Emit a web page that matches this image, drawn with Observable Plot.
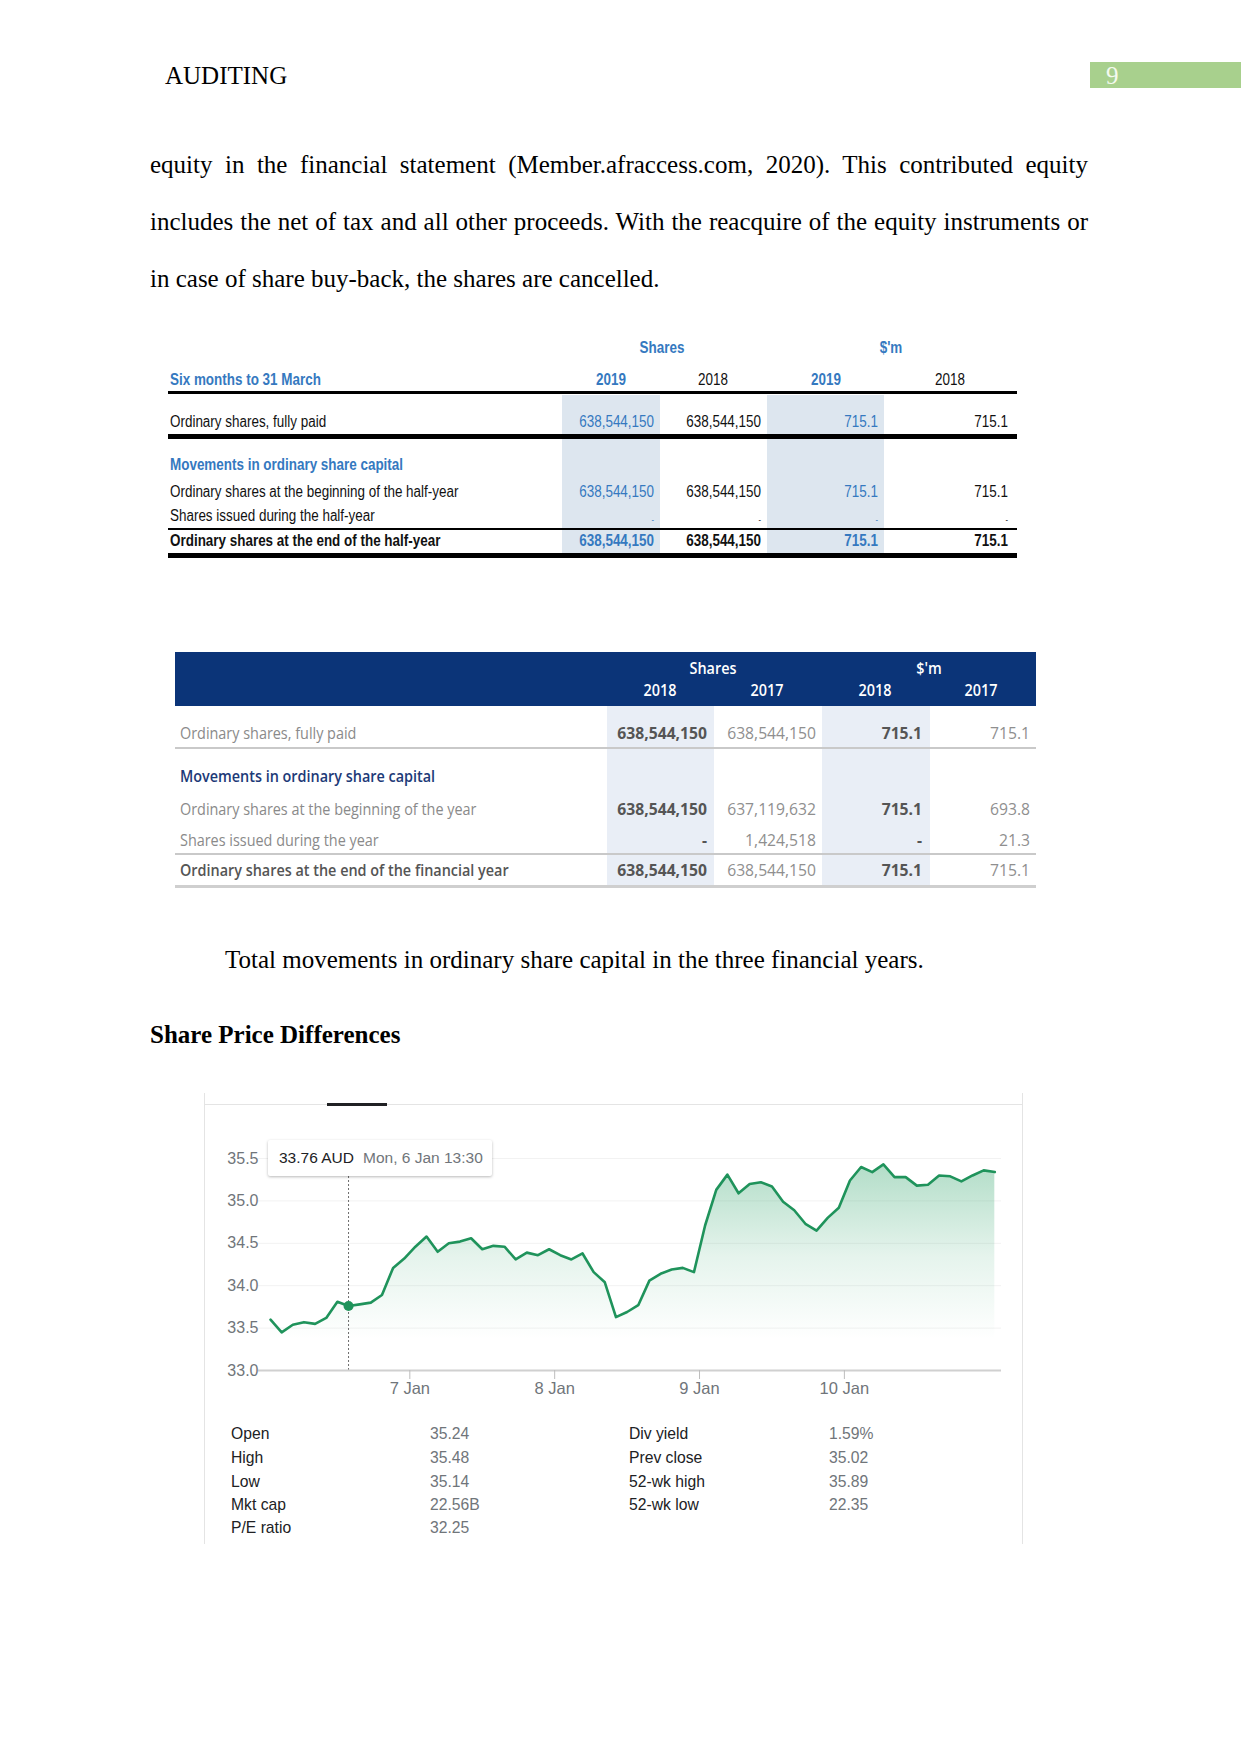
<!DOCTYPE html>
<html><head><meta charset="utf-8">
<script src="https://cdn.jsdelivr.net/npm/d3@7"></script>
<script src="https://cdn.jsdelivr.net/npm/@observablehq/plot@0.6"></script>
<style>
html,body{margin:0;padding:0;background:#fff;}
#page{position:relative;width:1241px;height:1754px;overflow:hidden;background:#fff;}
.t{position:absolute;white-space:nowrap;line-height:1;}
.bx{position:absolute;}
.ln{position:absolute;white-space:nowrap;line-height:24px;text-align:justify;text-align-last:justify;}
</style></head><body><div id="page"></div>
<script>
// ---------------- data ----------------
const docHeader = "AUDITING";
const pageNumber = "9";
const bodyLines = [
  "equity in the financial statement (Member.afraccess.com, 2020). This contributed equity",
  "includes the net of tax and all other proceeds. With the reacquire of the equity instruments or",
  "in case of share buy-back, the shares are cancelled."
];
const captionText = "Total movements in ordinary share capital in the three financial years.";
const headingText = "Share Price Differences";

const t1Groups = ["Shares", "$'m"];
const t1Period = "Six months to 31 March";
const t1Years = ["2019", "2018", "2019", "2018"];
const t1Labels = [
  "Ordinary shares, fully paid",
  "Movements in ordinary share capital",
  "Ordinary shares at the beginning of the half-year",
  "Shares issued during the half-year",
  "Ordinary shares at the end of the half-year"
];
const t1Values = [
  ["638,544,150", "638,544,150", "715.1", "715.1"],
  null,
  ["638,544,150", "638,544,150", "715.1", "715.1"],
  ["-", "-", "-", "-"],
  ["638,544,150", "638,544,150", "715.1", "715.1"]
];

const t2Groups = ["Shares", "$'m"];
const t2Years = ["2018", "2017", "2018", "2017"];
const t2Labels = [
  "Ordinary shares, fully paid",
  "Movements in ordinary share capital",
  "Ordinary shares at the beginning of the year",
  "Shares issued during the year",
  "Ordinary shares at the end of the financial year"
];
const t2Values = [
  ["638,544,150", "638,544,150", "715.1", "715.1"],
  null,
  ["638,544,150", "637,119,632", "715.1", "693.8"],
  ["-", "1,424,518", "-", "21.3"],
  ["638,544,150", "638,544,150", "715.1", "715.1"]
];

// share price, half-hourly trading slots, 6 Jan 10:00 onwards
const prices = [
  33.60, 33.45, 33.54, 33.57, 33.55, 33.62, 33.81, 33.76, 33.78, 33.80, 33.89, 34.21, 34.32,
  34.46, 34.58, 34.40, 34.50, 34.52, 34.56, 34.43, 34.47, 34.46, 34.31, 34.39, 34.36, 34.43,
  34.36, 34.31, 34.38, 34.16, 34.04, 33.63, 33.69, 33.77, 34.06, 34.14, 34.19, 34.21, 34.16,
  34.71, 35.13, 35.31, 35.09, 35.20, 35.22, 35.17, 34.99, 34.89, 34.73, 34.65, 34.80, 34.92,
  35.24, 35.40, 35.34, 35.43, 35.28, 35.28, 35.18, 35.19, 35.30, 35.29, 35.23, 35.30, 35.36,
  35.34
];
const dayTicks = [12.5, 25.5, 38.5, 51.5];
const dayLabels = ["7 Jan", "8 Jan", "9 Jan", "10 Jan"];
const yTicks = [33.0, 33.5, 34.0, 34.5, 35.0, 35.5];
const hoverIndex = 7;
const hoverPrice = "33.76 AUD";
const hoverTime = "Mon, 6 Jan 13:30";

const statLabelsA = ["Open", "High", "Low", "Mkt cap", "P/E ratio"];
const statValuesA = ["35.24", "35.48", "35.14", "22.56B", "32.25"];
const statLabelsB = ["Div yield", "Prev close", "52-wk high", "52-wk low"];
const statValuesB = ["1.59%", "35.02", "35.89", "22.35"];

// ---------------- helpers ----------------
const SANS = "'Liberation Sans', Arial, sans-serif";
const SERIF = "'Liberation Serif', 'Times New Roman', serif";
const OPEN = "'Open Sans', 'Noto Sans', sans-serif";
const SERIF_SIZE = 25;
const page = document.getElementById("page");
function rect(x, y, w, h, bg) {
  const d = document.createElement("div");
  d.className = "bx";
  Object.assign(d.style, {left: x + "px", top: y + "px", width: w + "px", height: h + "px", background: bg});
  page.appendChild(d);
  return d;
}
function txt(s, x, y, o = {}) {
  const d = document.createElement("div");
  d.className = "t";
  d.textContent = s;
  const a = o.anchor || "start", sx = o.sx || 1;
  const tx = a === "start" ? "0" : a === "end" ? "-100%" : "-50%";
  const ox = a === "start" ? "left" : a === "end" ? "right" : "center";
  Object.assign(d.style, {
    left: x + "px", top: y + "px",
    fontFamily: o.font || SANS, fontSize: (o.size || 16) + "px",
    color: o.color || "#000", fontWeight: o.weight || 400,
    transform: `translate(${tx},-50%) scaleX(${sx})`,
    transformOrigin: `${ox} center`
  });
  page.appendChild(d);
  return d;
}

// ---------------- header & body ----------------
txt(docHeader, 165, 75, {font: SERIF, size: SERIF_SIZE, color: "#000"});
rect(1090, 62, 151, 26, "#a8d08d");
txt(pageNumber, 1106, 75, {font: SERIF, size: SERIF_SIZE, color: "#f4faef"});

const bodyY = [165.5, 222.6, 279.7];
bodyLines.forEach((s, i) => {
  const d = document.createElement("div");
  d.className = "ln";
  d.textContent = s;
  Object.assign(d.style, {
    left: "150px", top: (bodyY[i] - 12.5) + "px", width: "938px",
    fontFamily: SERIF, fontSize: SERIF_SIZE + "px", color: "#000",
    textAlignLast: i < 2 ? "justify" : "left", whiteSpace: "normal"
  });
  page.appendChild(d);
});

// ---------------- table 1 ----------------
{
  const blue = "#3579c0";
  const shade = "#dde6ef";
  rect(561.5, 395, 98.5, 160, shade);
  rect(767, 395, 117, 160, shade);
  const o = {size: 16, sx: 0.84};
  txt(t1Groups[0], 662, 348, {...o, anchor: "middle", color: blue, weight: 700});
  txt(t1Groups[1], 891, 348, {...o, anchor: "middle", color: blue, weight: 700});
  txt(t1Period, 170, 380, {...o, color: blue, weight: 700});
  const yc = [611, 713, 825.5, 950];
  t1Years.forEach((y, i) => txt(y, yc[i], 380, {...o, anchor: "middle", color: i % 2 === 0 ? blue : "#111", weight: i % 2 === 0 ? 700 : 400}));
  rect(168, 391, 849, 3, "#000");
  rect(168, 434, 849, 5, "#000");
  rect(168, 528, 849, 2, "#000");
  rect(168, 553, 849, 5, "#000");
  const rowY = [422, 465, 492, 516, 541];
  const colR = [654, 761, 878, 1008];
  t1Labels.forEach((lab, r) => {
    const isHead = r === 1, isTot = r === 4;
    txt(lab, 170, rowY[r], {...o, color: isHead ? blue : "#111", weight: (isHead || isTot) ? 700 : 400});
    const vals = t1Values[r];
    if (vals) vals.forEach((v, c) => {
      const isDash = v === "-";
      txt(v, colR[c], isDash ? rowY[r] + 4 : rowY[r], {...o, size: isDash ? 9 : 16, anchor: "end",
        color: c % 2 === 0 ? blue : "#111", weight: isTot ? 700 : 400});
    });
  });
}

// ---------------- table 2 ----------------
{
  const navy = "#0b3478";
  rect(175, 652, 861, 54, navy);
  rect(607, 706, 107, 182, "#e9eef6");
  rect(822, 706, 108, 182, "#e9eef6");
  const o = {font: OPEN, size: 16, sx: 0.9};
  txt(t2Groups[0], 712.5, 668, {...o, anchor: "middle", color: "#fff", weight: 600});
  txt(t2Groups[1], 929, 668, {...o, anchor: "middle", color: "#fff", weight: 600});
  const yc = [660, 766.5, 875, 981];
  t2Years.forEach((y, i) => txt(y, yc[i], 690, {...o, anchor: "middle", color: "#fff", weight: 600}));
  rect(175, 747, 861, 2, "#c9c9c9");
  rect(175, 853, 861, 2, "#c9c9c9");
  rect(175, 885, 861, 3, "#cfcfcf");
  const rowY = [733, 776, 809, 840, 870];
  const colR = [707, 815.5, 922, 1030];
  t2Labels.forEach((lab, r) => {
    const isHead = r === 1, isTot = r === 4;
    txt(lab, 180, rowY[r], {...o, color: isHead ? "#1d3a78" : (isTot ? "#555" : "#8a8a8a"), weight: (isHead || isTot) ? 600 : 400});
    const vals = t2Values[r];
    if (vals) vals.forEach((v, c) => {
      txt(v, colR[c], rowY[r], {...o, sx: 0.98, anchor: "end", color: c % 2 === 0 ? "#555" : "#8f8f8f", weight: c % 2 === 0 ? 700 : 400});
    });
  });
}

// ---------------- captions ----------------
txt(captionText, 225, 959, {font: SERIF, size: SERIF_SIZE});
txt(headingText, 150, 1034, {font: SERIF, size: SERIF_SIZE, weight: 700});

// ---------------- chart frame ----------------
rect(204, 1093, 1, 451, "#e4e4e4");
rect(1022, 1093, 1, 451, "#e4e4e4");
rect(204, 1104, 819, 1, "#e4e4e4");
rect(327, 1103, 60, 3, "#202124");

// ---------------- chart ----------------
const data = prices.map((p, i) => ({i, p}));
const green = "#1f935b";
const chart = Plot.plot({
  width: 817, height: 270,
  marginLeft: 53, marginRight: 21, marginTop: 28, marginBottom: 30,
  x: {type: "linear", domain: [-1.08, 65.6], label: null},
  y: {type: "linear", domain: [33, 35.5], label: null},
  style: {fontFamily: SANS, fontSize: "16px", color: "#70757a", background: "transparent", overflow: "visible"},
  marks: [
    Plot.ruleY(yTicks.slice(1), {stroke: "#f2f2f2", strokeWidth: 1}),
    Plot.areaY(data, {x: "i", y1: 33, y2: "p", fill: "url(#priceGrad)"}),
    Plot.ruleX([hoverIndex], {y1: 33, y2: 35.5, stroke: "#6d6d6d", strokeDasharray: "2,2", strokeWidth: 1}),
    Plot.ruleY([33], {stroke: "#d0d0d0", strokeWidth: 2}),
    Plot.axisX({ticks: dayTicks, tickFormat: d => dayLabels[dayTicks.indexOf(d)], tickSize: 9, tickPadding: 3, stroke: "#bdbdbd", fontSize: 16.5, label: null}),
    Plot.axisY({ticks: yTicks, tickFormat: d => d.toFixed(1), tickSize: 0, tickPadding: 0, fontSize: 16, label: null}),
    Plot.line(data, {x: "i", y: "p", stroke: green, strokeWidth: 2.6, strokeLinejoin: "round"}),
    Plot.dot([data[hoverIndex]], {x: "i", y: "p", r: 5, fill: green})
  ]
});
const defs = d3.select(chart).insert("defs", ":first-child");
const grad = defs.append("linearGradient").attr("id", "priceGrad").attr("x1", 0).attr("y1", 0).attr("x2", 0).attr("y2", 1);
grad.append("stop").attr("offset", "0%").attr("stop-color", "#2aa166").attr("stop-opacity", 0.36);
grad.append("stop").attr("offset", "45%").attr("stop-color", "#2aa166").attr("stop-opacity", 0.12);
grad.append("stop").attr("offset", "85%").attr("stop-color", "#2aa166").attr("stop-opacity", 0);
chart.style.position = "absolute";
chart.style.left = "205px";
chart.style.top = "1130px";
page.appendChild(chart);

// tooltip
{
  const tip = rect(268, 1140, 224, 36, "#fff");
  tip.style.boxShadow = "0 1px 3px rgba(0,0,0,0.28)";
  tip.style.borderRadius = "2px";
  txt(hoverPrice, 279, 1158, {size: 15.5, color: "#202124"});
  txt(hoverTime, 363, 1158, {size: 15.5, color: "#70757a"});
}

// stats
{
  const rowY = [1434, 1458, 1482, 1505, 1528];
  statLabelsA.forEach((s, i) => { txt(s, 231, rowY[i], {size: 15.7, color: "#202124"}); txt(statValuesA[i], 430, rowY[i], {size: 15.7, color: "#70757a"}); });
  statLabelsB.forEach((s, i) => { txt(s, 629, rowY[i], {size: 15.7, color: "#202124"}); txt(statValuesB[i], 829, rowY[i], {size: 15.7, color: "#70757a"}); });
}
</script></body></html>
